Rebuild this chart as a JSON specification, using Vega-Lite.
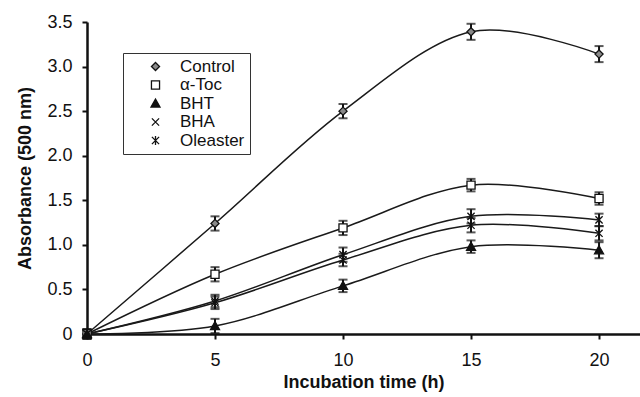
{
  "$schema": "https://vega.github.io/schema/vega-lite/v6.json",
  "autosize": "none",
  "width": 553,
  "height": 312,
  "padding": {"left": 87, "top": 22, "right": 0, "bottom": 63},
  "background": "white",
  "data": {
    "values": [
      {"series": "Control", "time": 0, "value": 0, "err": 0.05},
      {"series": "Control", "time": 5, "value": 1.24, "err": 0.08},
      {"series": "Control", "time": 10, "value": 2.5, "err": 0.08},
      {"series": "Control", "time": 15, "value": 3.39, "err": 0.09},
      {"series": "Control", "time": 20, "value": 3.14, "err": 0.09},
      {"series": "α-Toc", "time": 0, "value": 0, "err": 0.05},
      {"series": "α-Toc", "time": 5, "value": 0.67, "err": 0.08},
      {"series": "α-Toc", "time": 10, "value": 1.19, "err": 0.08},
      {"series": "α-Toc", "time": 15, "value": 1.67, "err": 0.07},
      {"series": "α-Toc", "time": 20, "value": 1.52, "err": 0.07},
      {"series": "BHT", "time": 0, "value": 0, "err": 0.05},
      {"series": "BHT", "time": 5, "value": 0.09, "err": 0.08},
      {"series": "BHT", "time": 10, "value": 0.54, "err": 0.07},
      {"series": "BHT", "time": 15, "value": 0.98, "err": 0.07},
      {"series": "BHT", "time": 20, "value": 0.94, "err": 0.09},
      {"series": "BHA", "time": 0, "value": 0, "err": 0.05},
      {"series": "BHA", "time": 5, "value": 0.37, "err": 0.07},
      {"series": "BHA", "time": 10, "value": 0.89, "err": 0.08},
      {"series": "BHA", "time": 15, "value": 1.32, "err": 0.08},
      {"series": "BHA", "time": 20, "value": 1.28, "err": 0.07},
      {"series": "Oleaster", "time": 0, "value": 0, "err": 0.05},
      {"series": "Oleaster", "time": 5, "value": 0.35, "err": 0.07},
      {"series": "Oleaster", "time": 10, "value": 0.83, "err": 0.07},
      {"series": "Oleaster", "time": 15, "value": 1.22, "err": 0.08},
      {"series": "Oleaster", "time": 20, "value": 1.13, "err": 0.08}
    ]
  },
  "encoding": {
    "x": {
      "field": "time", "type": "quantitative",
      "scale": {"domain": [0, 21.6], "nice": false},
      "axis": {"values": [0, 5, 10, 15, 20], "title": "Incubation time (h)", "labelPadding": 12, "titlePadding": 4}
    }
  },
  "layer": [
    {
      "mark": {"type": "line", "interpolate": "cardinal", "tension": 0, "color": "#1a1a1a", "strokeWidth": 1.5},
      "encoding": {
        "y": {"field": "value", "type": "quantitative"},
        "detail": {"field": "series"}
      }
    },
    {
      "mark": {"type": "errorbar", "ticks": {"size": 9, "color": "#111"}, "thickness": 2, "color": "#111"},
      "encoding": {
        "y": {"field": "value", "type": "quantitative",
          "scale": {"domain": [0, 3.5], "nice": false},
          "axis": {"values": [0, 0.5, 1, 1.5, 2, 2.5, 3, 3.5], "title": "Absorbance (500 nm)",
            "labelExpr": "datum.value == 0 ? '0' : format(datum.value, '.1f')", "labelPadding": 10, "titlePadding": 12}},
        "yError": {"field": "err"}
      }
    },
    {
      "mark": {"type": "point", "strokeWidth": 1.3, "size": 81, "opacity": 1, "fillOpacity": 1, "stroke": "#111"},
      "encoding": {
        "y": {"field": "value", "type": "quantitative"},
        "shape": {
          "field": "series", "type": "nominal",
          "scale": {
            "domain": ["Control", "α-Toc", "BHT", "BHA", "Oleaster"],
            "range": ["M0,-0.9L0.9,0L0,0.9L-0.9,0Z", "M-0.9,-0.9L0.9,-0.9L0.9,0.9L-0.9,0.9Z", "M0,-1L1,0.8L-1,0.8Z", "M-0.8,-0.8L0.8,0.8M-0.8,0.8L0.8,-0.8", "M-0.8,-0.8L0.8,0.8M-0.8,0.8L0.8,-0.8M0,-1L0,1"]
          },
          "legend": {
            "title": null, "orient": "none", "legendX": 36, "legendY": 31,
            "symbolOffset": 19, "labelOffset": 16,
            "encode": {"symbols": {"update": {
              "stroke": {"value": "#111"},
              "strokeWidth": {"value": 1.3},
              "fill": {"signal": "datum.value == 'Control' ? '#8a8a8a' : datum.value == 'α-Toc' ? '#ffffff' : '#111111'"},
              "fillOpacity": {"value": 1}}}}
          }
        },
        "fill": {
          "field": "series", "type": "nominal",
          "scale": {
            "domain": ["Control", "α-Toc", "BHT", "BHA", "Oleaster"],
            "range": ["#8a8a8a", "#ffffff", "#111111", "#111111", "#111111"]
          },
          "legend": null
        }
      }
    }
  ],
  "config": {
    "view": {"stroke": null},
    "font": "Liberation Sans",
    "axis": {
      "grid": false, "labelFlush": false, "labelOverlap": false,
      "domainColor": "#111", "domainWidth": 2.5,
      "tickColor": "#111", "tickWidth": 2, "tickSize": 5,
      "labelFont": "Liberation Sans", "labelFontSize": 18, "labelColor": "#111",
      "titleFont": "Liberation Sans", "titleFontSize": 18, "titleFontWeight": "bold", "titleColor": "#111"
    },
    "legend": {
      "labelFont": "Liberation Sans", "labelFontSize": 17, "labelColor": "#111",
      "strokeColor": "#333", "fillColor": "white", "padding": 5,
      "symbolSize": 81, "symbolStrokeWidth": 1.3,
      "rowPadding": 0.5
    }
  }
}
